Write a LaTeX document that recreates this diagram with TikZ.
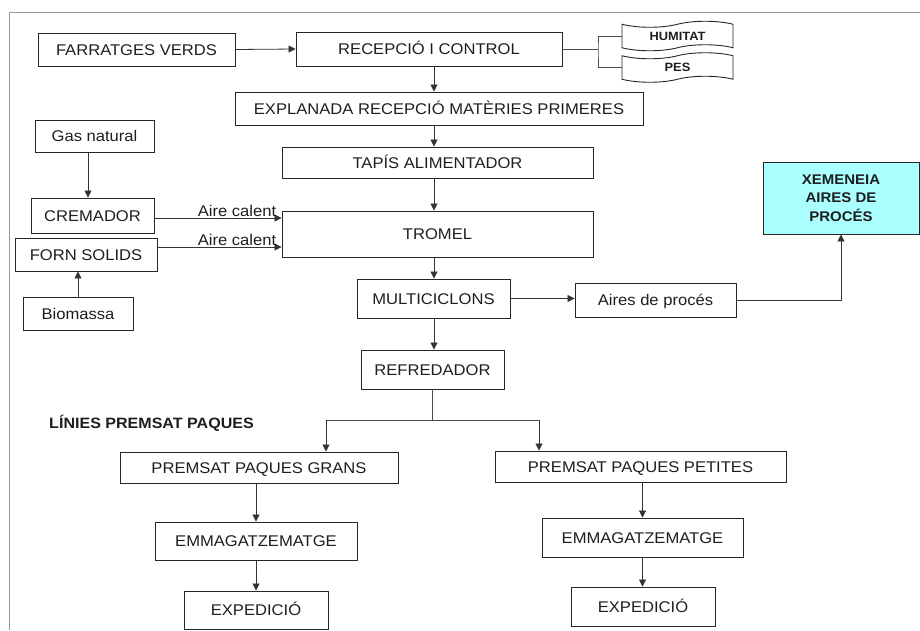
\documentclass[tikz,border=0pt]{standalone}
\usepackage{fontspec}
\setmainfont{Liberation Sans}[FakeStretch=1.07]
\usetikzlibrary{arrows.meta,shapes.symbols}
\definecolor{xemfill}{RGB}{170,255,255}
\definecolor{txt}{RGB}{30,30,30}
\begin{document}
\begin{tikzpicture}[x=1pt,y=-1pt,
  every node/.style={font=\fontsize{15.5}{18}\selectfont, text=txt},
  boxbase/.style={draw=black!85, line width=0.9pt, inner sep=0pt, align=center},
  box/.style={boxbase, text height=11pt, text depth=0pt},
  tapebox/.style={draw=black!85, line width=0.9pt, inner xsep=0pt, inner ysep=4.5pt, shape=tape,
     tape bend height=6pt, minimum width=111pt,
     text height=8.5pt, text depth=0pt,
     font=\bfseries\fontsize{12}{14}\selectfont},
  arr/.style={draw=black!80, line width=0.8pt, -{Triangle[length=7pt,width=7pt]}},
  ln/.style={draw=black!70, line width=0.8pt},
  lbl/.style={inner sep=1pt}]
\useasboundingbox (0,0) rectangle (920,630);
% frame
\draw[gray!80, line width=0.8pt] (9,630) -- (9,12) -- (920,12);

% nodes
\node[box, minimum width=197pt, minimum height=33pt] (farr) at (136.5,49.5) {FARRATGES VERDS};
\node[box, minimum width=266pt, minimum height=34pt] (recep) at (429,49) {RECEPCIÓ I CONTROL};
\node[tapebox] (hum) at (677.5,36) {HUMITAT};
\node[tapebox] (pes) at (677.5,67.5) {PES};
\node[box, minimum width=408pt, minimum height=33pt] (expl) at (439,108.5) {EXPLANADA RECEPCIÓ MATÈRIES PRIMERES};
\node[box, minimum width=311pt, minimum height=31pt] (tapis) at (437.5,162.5) {TAPÍS ALIMENTADOR};
\node[box, minimum width=311pt, minimum height=46pt] (tromel) at (437.5,234) {TROMEL};
\node[box, minimum width=119pt, minimum height=32pt] (gas) at (94.5,136) {Gas natural};
\node[box, minimum width=123pt, minimum height=35pt] (crem) at (92.5,215.5) {CREMADOR};
\node[box, minimum width=142pt, minimum height=33pt] (forn) at (86,254.5) {FORN SOLIDS};
\node[box, minimum width=110pt, minimum height=33pt] (bio) at (78,313.5) {Biomassa};
\node[box, minimum width=153pt, minimum height=39pt] (multi) at (433.5,298.5) {MULTICICLONS};
\node[box, minimum width=161pt, minimum height=34pt] (aires) at (655.5,300) {Aires de procés};
\node[boxbase, fill=xemfill, minimum width=156pt, minimum height=72pt,
      font=\bfseries\fontsize{14}{18.5}\selectfont] (xem) at (841,198) {XEMENEIA\\AIRES DE\\PROCÉS};
\node[box, minimum width=143pt, minimum height=39pt] (refr) at (432.5,369.5) {REFREDADOR};
\node[font=\bfseries\fontsize{15}{18}\selectfont, inner sep=0pt] (linies) at (151.5,423) {LÍNIES PREMSAT PAQUES};
\node[box, minimum width=278pt, minimum height=31pt] (grans) at (259,467.5) {PREMSAT PAQUES GRANS};
\node[box, minimum width=202pt, minimum height=38pt] (emmA) at (256,541) {EMMAGATZEMATGE};
\node[box, minimum width=144pt, minimum height=38pt] (expA) at (256,610) {EXPEDICIÓ};
\node[box, minimum width=291pt, minimum height=31pt] (pet) at (640.5,466.5) {PREMSAT PAQUES PETITES};
\node[box, minimum width=201pt, minimum height=39pt] (emmB) at (642.5,537.5) {EMMAGATZEMATGE};
\node[box, minimum width=144pt, minimum height=39pt] (expB) at (643,606.5) {EXPEDICIÓ};

% helper coordinates
\coordinate (cx) at (434,0);
\coordinate (br) at (598,49);
\coordinate (gx) at (88,0);
\coordinate (ya) at (0,218);
\coordinate (yb) at (0,247);
\coordinate (gL) at (326,420);
\coordinate (gR) at (539,420);

% connectors
\draw[arr] (farr.east) -- (recep.west);
\draw[ln] (recep.east) -- (br);
\draw[ln] (hum.west) -| (br) |- (pes.west);
\draw[arr] (recep.south -| cx) -- (expl.north -| cx);
\draw[arr] (expl.south -| cx) -- (tapis.north -| cx);
\draw[arr] (tapis.south -| cx) -- (tromel.north -| cx);
\draw[arr] (tromel.south -| cx) -- (multi.north -| cx);
\draw[arr] (multi.south -| cx) -- (refr.north -| cx);
\draw[arr] (gas.south -| gx) -- (crem.north -| gx);
\draw[arr] (bio.north) -- (forn.south -| bio.north);
\draw[arr] (crem.east |- ya) -- (tromel.west |- ya)
  node[lbl, pos=1, anchor=south east, xshift=-4pt] {Aire calent};
\draw[arr] (forn.east |- yb) -- (tromel.west |- yb)
  node[lbl, pos=1, anchor=south east, xshift=-4pt] {Aire calent};
\draw[arr] (multi.east) -- (multi.east -| aires.west);
\draw[arr] (aires.east) -| (xem.south);
\draw[ln] (refr.south) -- (refr.south |- gL);
\draw[ln] (gL) -- (gR);
\draw[arr] (gL) -- (gL |- grans.north);
\draw[arr] (gR) -- (gR |- pet.north);
\draw[arr] (grans.south -| emmA) -- (emmA.north);
\draw[arr] (emmA.south) -- (expA.north);
\draw[arr] (pet.south -| emmB) -- (emmB.north);
\draw[arr] (emmB.south) -- (emmB.south |- expB.north);
\end{tikzpicture}
\end{document}
